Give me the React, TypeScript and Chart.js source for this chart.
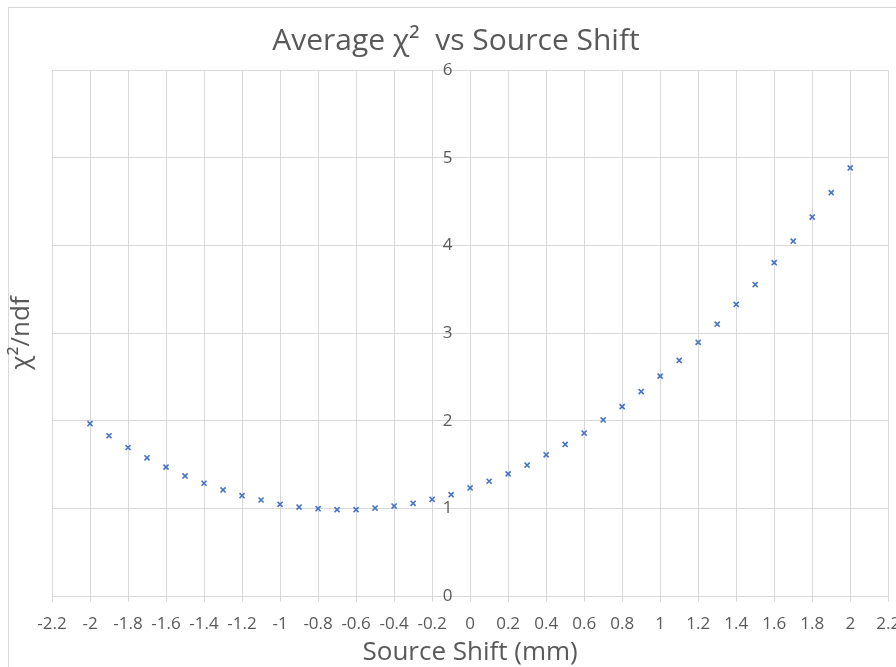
import React, { useEffect, useRef } from "react";
import { Chart, registerables } from "chart.js";

Chart.register(...registerables);

// ---- data ----
const sourceShift: number[] = [
  -2, -1.9, -1.8, -1.7, -1.6, -1.5, -1.4, -1.3, -1.2, -1.1, -1.0,
  -0.9, -0.8, -0.7, -0.6, -0.5, -0.4, -0.3, -0.2, -0.1, 0,
  0.1, 0.2, 0.3, 0.4, 0.5, 0.6, 0.7, 0.8, 0.9, 1.0,
  1.1, 1.2, 1.3, 1.4, 1.5, 1.6, 1.7, 1.8, 1.9, 2.0,
];
const chi2ndf: number[] = [
  1.966, 1.828, 1.694, 1.576, 1.47, 1.37, 1.286, 1.21, 1.144, 1.095, 1.046,
  1.015, 0.996, 0.984, 0.984, 1.003, 1.026, 1.057, 1.103, 1.156, 1.233,
  1.309, 1.393, 1.492, 1.611, 1.729, 1.859, 2.008, 2.16, 2.332, 2.508,
  2.687, 2.894, 3.1, 3.326, 3.553, 3.802, 4.047, 4.322, 4.6, 4.883,
];
const xTickValues: number[] = [
  -2.2, -2, -1.8, -1.6, -1.4, -1.2, -1, -0.8, -0.6, -0.4, -0.2, 0,
  0.2, 0.4, 0.6, 0.8, 1, 1.2, 1.4, 1.6, 1.8, 2, 2.2,
];
const xTickLabels: string[] = [
  "-2.2", "-2", "-1.8", "-1.6", "-1.4", "-1.2", "-1", "-0.8", "-0.6", "-0.4", "-0.2", "0",
  "0.2", "0.4", "0.6", "0.8", "1", "1.2", "1.4", "1.6", "1.8", "2", "2.2",
];
const yTickValues: number[] = [0, 1, 2, 3, 4, 5, 6];
const yTickLabels: string[] = ["0", "1", "2", "3", "4", "5", "6"];

const chartTitle = "Average χ²  vs Source Shift";
const xAxisTitle = "Source Shift (mm)";
const yAxisTitle = "χ²/ndf";

const FONT = "'Open Sans', 'DejaVu Sans', sans-serif";
const TEXT = "#595959";
const GRID = "#d9d9d9";
const MARK = "#4472C4";
// gap between the y tick labels and the axis line that crosses at x = 0
const Y_LABEL_GAP = "\u00A0\u00A0\u00A0\u00A0";

export default function App() {
  const ref = useRef<HTMLCanvasElement | null>(null);

  useEffect(() => {
    if (!ref.current) return;
    Chart.defaults.font.family = FONT;
    const chart = new Chart(ref.current, {
      type: "scatter",
      data: {
        datasets: [
          {
            label: "chi2",
            data: sourceShift.map((x, i) => ({ x, y: chi2ndf[i] })),
            xAxisID: "x",
            yAxisID: "y",
            pointStyle: "crossRot",
            pointRadius: 3.6,
            pointBorderWidth: 1.6,
            borderColor: MARK,
            backgroundColor: MARK,
            showLine: false,
          },
        ],
      },
      options: {
        responsive: false,
        animation: false,
        layout: { padding: 0 },
        plugins: {
          legend: { display: false },
          tooltip: { enabled: false },
          title: {
            display: true,
            text: chartTitle,
            color: TEXT,
            font: { family: FONT, size: 30, weight: "normal" },
            padding: { top: 23.4, bottom: 10.6 },
          },
        },
        scales: {
          x: {
            type: "linear",
            position: "bottom",
            min: -2.2,
            max: 2.2,
            afterBuildTicks: (s: any) => {
              s.ticks = xTickValues.map((v) => ({ value: v }));
            },
            afterFit: (s: any) => {
              s.height = 84;
            },
            ticks: {
              color: TEXT,
              font: { family: FONT, size: 17 },
              padding: 11.8,
              autoSkip: false,
              maxRotation: 0,
              minRotation: 0,
              callback: (_v: any, i: number) => xTickLabels[i],
            },
            grid: { color: GRID, tickColor: GRID, tickLength: 6, lineWidth: 1 },
            border: { color: GRID, width: 1 },
            title: {
              display: true,
              text: xAxisTitle,
              color: TEXT,
              font: { family: FONT, size: 26, weight: "normal" },
              padding: { top: 3, bottom: 11.4 },
            },
          },
          y: {
            type: "linear",
            position: { x: 0 } as any,
            min: 0,
            max: 6,
            afterBuildTicks: (s: any) => {
              s.ticks = yTickValues.map((v) => ({ value: v }));
            },
            ticks: {
              color: TEXT,
              font: { family: FONT, size: 17 },
              padding: 0,
              callback: (_v: any, i: number) => yTickLabels[i] + Y_LABEL_GAP,
            },
            grid: { color: GRID, drawTicks: false, lineWidth: 1 },
            border: { color: GRID, width: 1 },
          },
          yTitleAxis: {
            type: "linear",
            position: "left",
            display: true,
            ticks: { display: false },
            grid: { display: false, drawTicks: false },
            border: { display: false },
            afterFit: (s: any) => {
              s.width = 52;
            },
            title: {
              display: true,
              text: yAxisTitle,
              color: TEXT,
              font: { family: FONT, size: 26, weight: "normal" },
              padding: { top: 6, bottom: 0 },
            },
          },
        },
      } as any,
    });
    return () => chart.destroy();
  }, []);

  return (
    <div
      style={{
        position: "fixed",
        left: 0,
        top: 0,
        width: 896,
        height: 667,
        overflow: "hidden",
        background: "#ffffff",
      }}
    >
      <div
        style={{
          position: "absolute",
          left: 8,
          top: 7,
          width: 1000,
          height: 1000,
          border: `1px solid ${GRID}`,
          boxSizing: "border-box",
        }}
      />
      <canvas
        ref={ref}
        width={912}
        height={680}
        style={{ position: "absolute", left: 0, top: 0, width: 912, height: 680 }}
      />
    </div>
  );
}
